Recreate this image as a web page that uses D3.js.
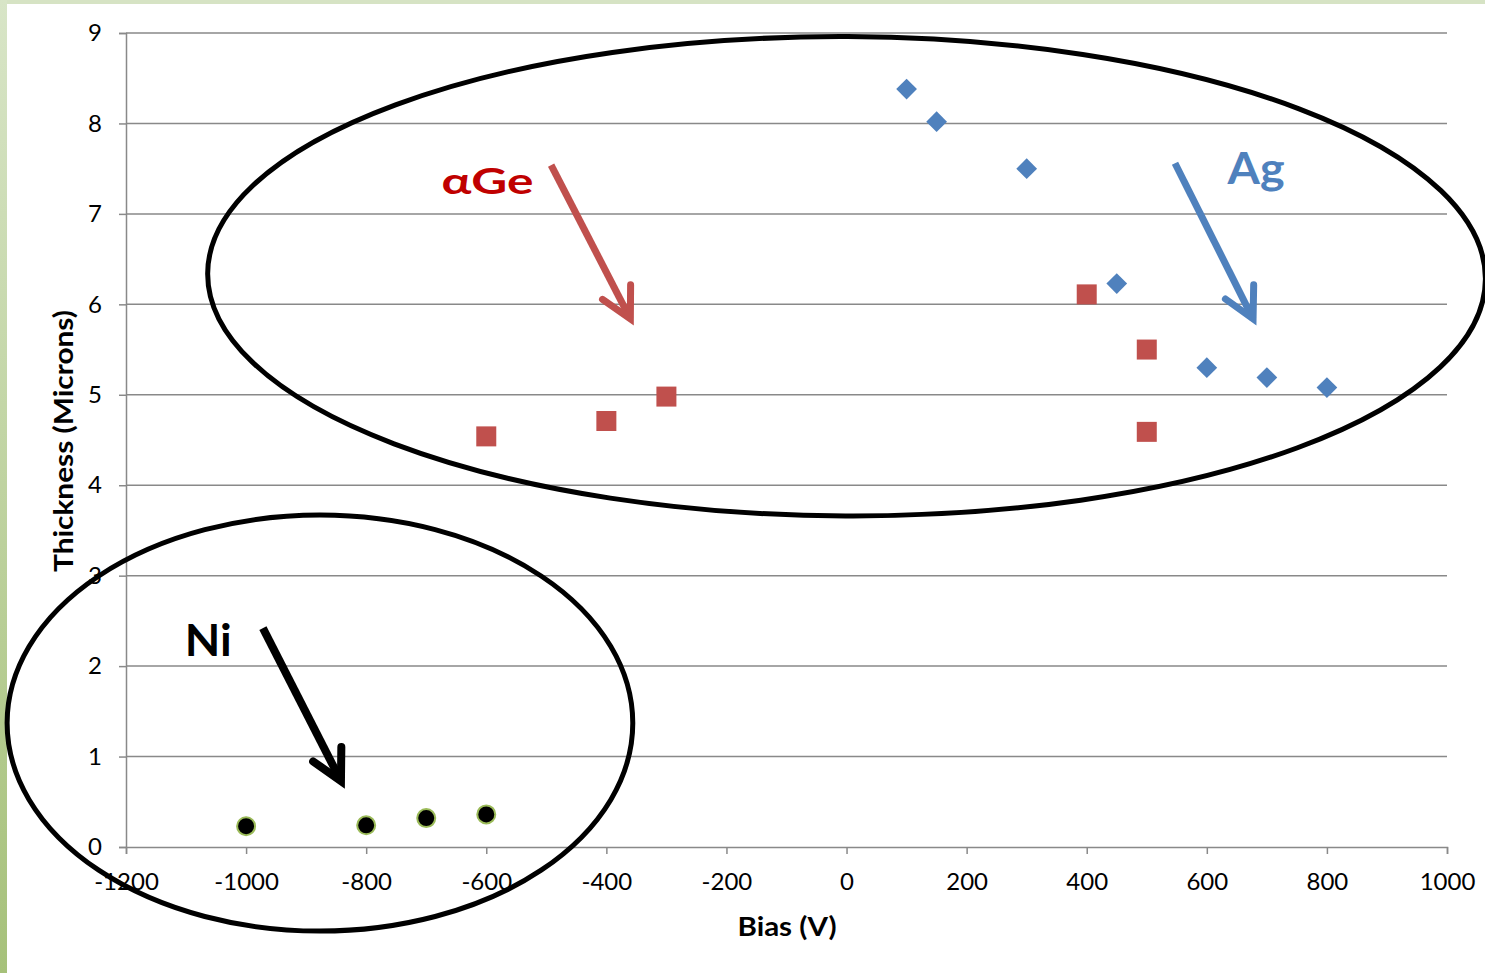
<!DOCTYPE html>
<html>
<head>
<meta charset="utf-8">
<script src="https://cdn.jsdelivr.net/npm/d3@7/dist/d3.min.js"></script>
<style>
  html, body { margin: 0; padding: 0; background: #fff; }
  svg { display: block; }
  text { font-family: Lato, "Open Sans", sans-serif; }
</style>
</head>
<body>
<svg id="chart" width="1485" height="973"></svg>
<script>
// Bias (V) vs. film thickness (microns) for three coating materials
const agBias = [100, 150, 300, 450, 600, 700, 800];
const agThickness = [8.38, 8.02, 7.50, 6.23, 5.30, 5.19, 5.08];

const geBias = [-600, -400, -300, 400, 500, 500];
const geThickness = [4.54, 4.71, 4.98, 6.11, 5.50, 4.59];

const niBias = [-1000, -800, -700, -600];
const niThickness = [0.23, 0.24, 0.32, 0.36];

const xTicks = [-1200, -1000, -800, -600, -400, -200, 0, 200, 400, 600, 800, 1000];
const yTicks = [0, 1, 2, 3, 4, 5, 6, 7, 8, 9];

const svg = d3.select("#chart");
const W = 1485, H = 973;

// Slide-style green frame on the left and top edges
const defs = svg.append("defs");
const lg = defs.append("linearGradient").attr("id", "edge").attr("x1", 0).attr("y1", 0).attr("x2", 0).attr("y2", 1);
lg.append("stop").attr("offset", "0%").attr("stop-color", "#d8e5c7");
lg.append("stop").attr("offset", "100%").attr("stop-color", "#a6c17a");
svg.append("rect").attr("x", 0).attr("y", 0).attr("width", W).attr("height", 4).attr("fill", "#d6e3c4");
svg.append("rect").attr("x", 0).attr("y", 0).attr("width", 7).attr("height", H).attr("fill", "url(#edge)");

const x = d3.scaleLinear().domain([-1200, 1000]).range([126, 1447]);
const y = d3.scaleLinear().domain([0, 9]).range([847, 33]);

const gridColor = "#898989";

// Horizontal gridlines
svg.append("g").selectAll("line").data(yTicks.filter(d => d > 0)).join("line")
  .attr("x1", x(-1200)).attr("x2", x(1000))
  .attr("y1", d => y(d)).attr("y2", d => y(d))
  .attr("stroke", gridColor).attr("stroke-width", 1.5);

// Y axis
const yAxis = svg.append("g").attr("transform", `translate(${x(-1200)},0)`)
  .call(d3.axisLeft(y).tickValues(yTicks).tickSize(7).tickPadding(17).tickFormat(d3.format("d")));
yAxis.select(".domain").attr("stroke", gridColor).attr("stroke-width", 1.5);
yAxis.selectAll(".tick line").attr("stroke", gridColor).attr("stroke-width", 1.5);
yAxis.selectAll(".tick text").attr("font-size", 24).attr("fill", "#000")
  .attr("font-family", "Lato, 'Open Sans', sans-serif");

// X axis
const xAxis = svg.append("g").attr("transform", `translate(0,${y(0)})`)
  .call(d3.axisBottom(x).tickValues(xTicks).tickSize(7).tickPadding(19).tickFormat(d => d < 0 ? "-" + Math.abs(d) : String(d)));
xAxis.select(".domain").attr("stroke", gridColor).attr("stroke-width", 1.5);
xAxis.selectAll(".tick line").attr("stroke", gridColor).attr("stroke-width", 1.5);
xAxis.selectAll(".tick text").attr("font-size", 24).attr("fill", "#000")
  .attr("font-family", "Lato, 'Open Sans', sans-serif");

// Axis titles
svg.append("text").attr("x", 787).attr("y", 936).attr("text-anchor", "middle")
  .attr("font-size", 27).attr("font-weight", "bold")
  .attr("textLength", 99).attr("lengthAdjust", "spacingAndGlyphs").text("Bias (V)");
svg.append("text").attr("transform", "translate(73,441) rotate(-90)").attr("text-anchor", "middle")
  .attr("font-size", 27).attr("font-weight", "bold")
  .attr("textLength", 262).attr("lengthAdjust", "spacingAndGlyphs").text("Thickness (Microns)");

// Data markers
const diamond = d3.symbol().type(d3.symbolSquare).size(215);
svg.append("g").selectAll("path").data(agBias.map((b, i) => [b, agThickness[i]])).join("path")
  .attr("d", diamond)
  .attr("transform", d => `translate(${x(d[0])},${y(d[1])}) rotate(45)`)
  .attr("fill", "#4f81bd");

const square = d3.symbol().type(d3.symbolSquare).size(400);
svg.append("g").selectAll("path").data(geBias.map((b, i) => [b, geThickness[i]])).join("path")
  .attr("d", square)
  .attr("transform", d => `translate(${x(d[0])},${y(d[1])})`)
  .attr("fill", "#c0504d");

svg.append("g").selectAll("circle").data(niBias.map((b, i) => [b, niThickness[i]])).join("circle")
  .attr("cx", d => x(d[0])).attr("cy", d => y(d[1])).attr("r", 9)
  .attr("fill", "#000").attr("stroke", "#9bbb59").attr("stroke-width", 2);

// Grouping ellipses (centres and radii in data units)
const groups = [
  { cx: 0, cy: 6.31, rx: 1064, ry: 2.65, rot: 0.25 },
  { cx: -877, cy: 1.37, rx: 521, ry: 2.30, rot: 0 }
];
svg.append("g").selectAll("ellipse").data(groups).join("ellipse")
  .attr("cx", 0).attr("cy", 0)
  .attr("rx", d => x(d.rx) - x(0))
  .attr("ry", d => y(0) - y(d.ry))
  .attr("transform", d => `translate(${x(d.cx)},${y(d.cy)}) rotate(${d.rot})`)
  .attr("fill", "none").attr("stroke", "#000").attr("stroke-width", 5);

// Arrows pointing at each material group
const arrows = [
  { x0: -492, y0: 7.54, x1: -357, y1: 5.80, color: "#c0504d", w: 7 },
  { x0: 547, y0: 7.56, x1: 680, y1: 5.80, color: "#4f81bd", w: 7 },
  { x0: -972, y0: 2.42, x1: -839, y1: 0.69, color: "#000", w: 8 }
];
const ag = svg.append("g");
arrows.forEach(a => {
  const px0 = x(a.x0), py0 = y(a.y0), px1 = x(a.x1), py1 = y(a.y1);
  const ang = Math.atan2(py1 - py0, px1 - px0);
  const L = 34, spread = Math.PI / 6.5;
  const back = 4;
  const tx = px1 - back * Math.cos(ang), ty = py1 - back * Math.sin(ang);
  ag.append("line").attr("x1", px0).attr("y1", py0).attr("x2", tx).attr("y2", ty)
    .attr("stroke", a.color).attr("stroke-width", a.w).attr("stroke-linecap", "butt");
  const p1 = [tx - L * Math.cos(ang - spread), ty - L * Math.sin(ang - spread)];
  const p2 = [tx - L * Math.cos(ang + spread), ty - L * Math.sin(ang + spread)];
  ag.append("path").attr("d", `M${p1[0]},${p1[1]}L${tx},${ty}L${p2[0]},${p2[1]}`)
    .attr("fill", "none").attr("stroke", a.color).attr("stroke-width", a.w)
    .attr("stroke-linejoin", "miter").attr("stroke-linecap", "round");
});

// Material labels
const labels = [
  { text: "αGe", bx: -598, by: 7.22, color: "#c00000", size: 36, len: 92 },
  { text: "Ag", bx: 682, by: 7.33, color: "#4f81bd", size: 44, len: 57 },
  { text: "Ni", bx: -1063, by: 2.11, color: "#000", size: 44, len: 47 }
];
svg.append("g").selectAll("text").data(labels).join("text")
  .attr("x", d => x(d.bx)).attr("y", d => y(d.by))
  .attr("text-anchor", "middle")
  .attr("font-size", d => d.size).attr("font-weight", "bold")
  .attr("fill", d => d.color)
  .attr("textLength", d => d.len).attr("lengthAdjust", "spacingAndGlyphs")
  .text(d => d.text);
</script>
</body>
</html>
